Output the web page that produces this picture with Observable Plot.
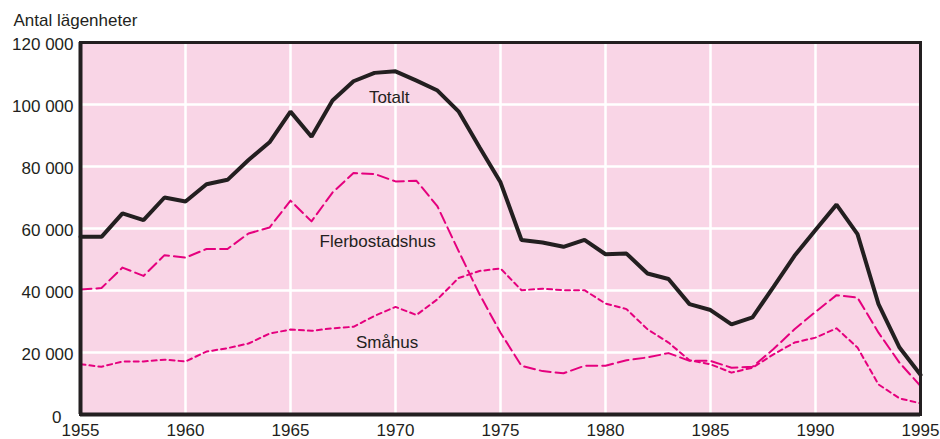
<!DOCTYPE html>
<html>
<head>
<meta charset="utf-8">
<script src="https://cdn.jsdelivr.net/npm/d3@7"></script>
<script src="https://cdn.jsdelivr.net/npm/@observablehq/plot@0.6"></script>
<style>
  html, body { margin: 0; padding: 0; background: #fff; }
  #chart svg { display: block; }
</style>
</head>
<body>
<div id="chart"></div>
<script>
const years = [1955,1956,1957,1958,1959,1960,1961,1962,1963,1964,
               1965,1966,1967,1968,1969,1970,1971,1972,1973,1974,
               1975,1976,1977,1978,1979,1980,1981,1982,1983,1984,
               1985,1986,1987,1988,1989,1990,1991,1992,1993,1994,1995];

const totalt = [57300,57300,64900,62700,70000,68700,74300,75700,82100,87800,
                97700,89600,101300,107500,110200,110700,107700,104500,97800,86200,
                74900,56300,55500,54100,56300,51700,51900,45500,43700,35600,
                33700,29100,31300,41200,51200,59500,67700,58200,35600,21600,12800];

const flerbostadshus = [40300,40800,47400,44700,51400,50600,53400,53400,58400,60300,
                        69000,62300,71600,77900,77600,75200,75400,67100,52800,38800,
                        26400,15700,14000,13300,15700,15700,17500,18400,19800,17300,
                        17300,15100,15400,21100,27500,33100,38500,37700,26400,16700,9200];

const smahus = [16200,15400,17100,17100,17700,17100,20300,21400,22900,26100,
                27400,27000,27800,28300,31800,34700,32100,37200,44000,46300,
                47100,40100,40600,40100,40100,35800,34000,27500,23200,17500,
                16200,13500,15100,19400,23200,24800,27800,21600,9700,5200,3600];

const yTicks = [20000,40000,60000,80000,100000,120000];
const yZeroTick = [0];
const xTicks = [1955,1960,1965,1970,1975,1980,1985,1990,1995];

const seriesNames = ["Totalt","Flerbostadshus","Småhus"];
const labelYears = [1969.7,1969.15,1969.6];
const labelValues = [102200,55800,23200];
const yTitle = "Antal lägenheter";

const toRows = (vals) => years.map((y, i) => ({year: y, value: vals[i]}));
const labels = seriesNames.map((n, i) => ({name: n, year: labelYears[i], value: labelValues[i]}));

const pink = "#f9d5e6";
const magenta = "#e5007e";
const dark = "#231f20";
const fmt = d => d === 0 ? "0" : d3.format(",")(d).replace(/,/g, " ");

const chart = Plot.plot({
  width: 940,
  height: 439,
  marginLeft: 80,
  marginRight: 20,
  marginTop: 42,
  marginBottom: 25,
  style: {fontFamily: "'Liberation Sans', Arial, Helvetica, sans-serif", fontSize: "17px", color: dark, background: "#fff"},
  x: {domain: [1955, 1995]},
  y: {domain: [0, 120000]},
  marks: [
    Plot.frame({fill: pink, stroke: null}),
    Plot.gridX(xTicks, {stroke: "#fff", strokeWidth: 2.5, strokeOpacity: 1}),
    Plot.gridY(yTicks, {stroke: "#fff", strokeWidth: 2.5, strokeOpacity: 1}),
    Plot.axisY(yTicks, {tickSize: 0, tickPadding: 7, tickFormat: fmt, fontSize: 17, dy: 2, label: null}),
    Plot.axisY(yZeroTick, {tickSize: 0, tickPadding: 19, tickFormat: fmt, fontSize: 17, dy: 3, label: null}),
    Plot.axisX(xTicks, {tickSize: 0, tickPadding: 9, tickFormat: d => String(d), fontSize: 17, label: null}),
    Plot.line(toRows(smahus), {x: "year", y: "value", stroke: magenta, strokeWidth: 2, strokeDasharray: "5,4"}),
    Plot.line(toRows(flerbostadshus), {x: "year", y: "value", stroke: magenta, strokeWidth: 2, strokeDasharray: "11,5"}),
    Plot.line(toRows(totalt), {x: "year", y: "value", stroke: dark, strokeWidth: 4, strokeLinejoin: "miter"}),
    Plot.text(labels, {x: "year", y: "value", text: "name", fill: dark, fontSize: 17}),
    Plot.frame({stroke: dark, strokeWidth: 3}),
    Plot.ruleY([0], {stroke: dark, strokeWidth: 4}),
    Plot.ruleX([1955], {stroke: dark, strokeWidth: 4}),
    Plot.text([yTitle], {frameAnchor: "top-left", dx: -67, dy: -22, textAnchor: "start", lineAnchor: "middle", fill: dark, fontSize: 17})
  ]
});
document.getElementById("chart").appendChild(chart);
</script>
</body>
</html>
